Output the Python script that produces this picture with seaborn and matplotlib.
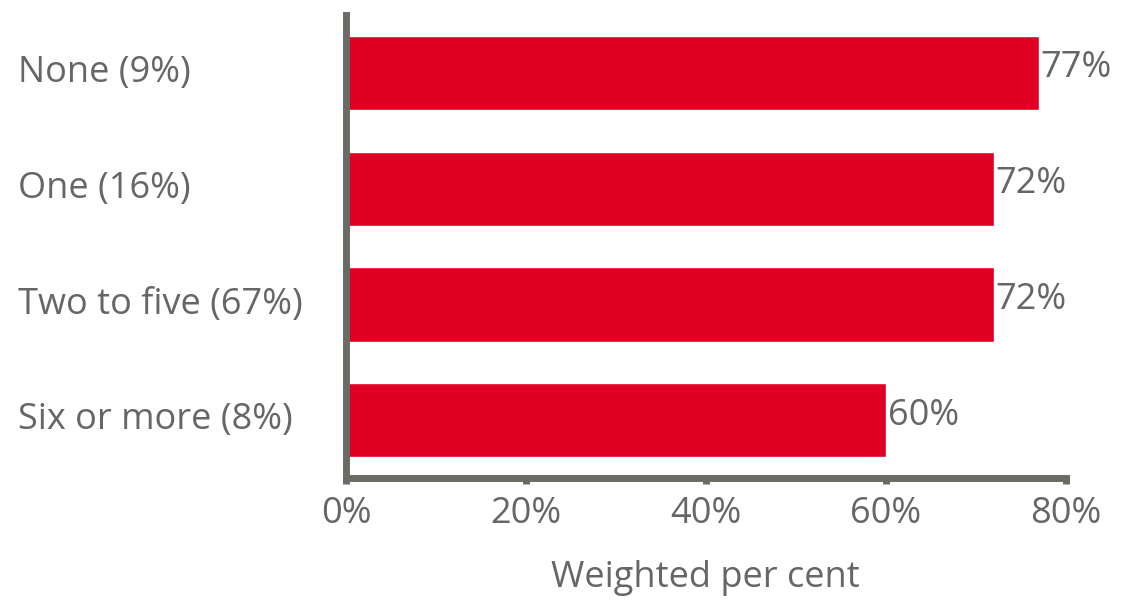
import matplotlib
matplotlib.use("Agg")
import matplotlib.pyplot as plt
import seaborn as sns
import pandas as pd
from matplotlib.ticker import FuncFormatter

categories = ["None (9%)", "One (16%)", "Two to five (67%)", "Six or more (8%)"]
values = [77, 72, 72, 60]
xticks = [0, 20, 40, 60, 80]

df = pd.DataFrame({"group": categories, "pct": values})

sns.set_theme(style="white")
plt.rcParams["font.family"] = ["Open Sans", "DejaVu Sans"]

text_color = "#666666"
axis_color = "#6b6b66"
bar_color = "#E00024"
fs = 26

fig = plt.figure(figsize=(11.23, 6.0), dpi=100)
ax = fig.add_axes([0.308, 0.203, 0.641, 0.772])

sns.barplot(data=df, x="pct", y="group", color=bar_color, saturation=1,
            width=0.64, ax=ax, orient="h")

# value labels at the end of each bar
for i, v in enumerate(values):
    ax.text(v + 0.2, i - 0.04, f"{v}%", va="center", ha="left",
            fontsize=fs, color=text_color)

ax.set_xlim(0, 80)
ax.set_ylim(3.5, -0.5)
ax.set_xticks(xticks)
ax.xaxis.set_major_formatter(FuncFormatter(lambda x, _: f"{x:.0f}%"))
ax.set_xlabel("Weighted per cent", fontsize=fs, color=text_color, labelpad=20)
ax.set_ylabel("")

for side in ["top", "right"]:
    ax.spines[side].set_visible(False)
for side in ["left", "bottom"]:
    ax.spines[side].set_color(axis_color)
    ax.spines[side].set_linewidth(5)
    ax.spines[side].set_capstyle("projecting")

ax.tick_params(axis="x", which="major", direction="out", length=4, width=5,
               color=axis_color, labelsize=fs, labelcolor=text_color, pad=9,
               bottom=True)
ax.tick_params(axis="y", length=0, labelsize=fs, labelcolor=text_color, pad=236)
for lab in ax.get_yticklabels():
    lab.set_horizontalalignment("left")
    lab.set_verticalalignment("center")

fig.savefig("out.png", dpi=100, facecolor="white")
